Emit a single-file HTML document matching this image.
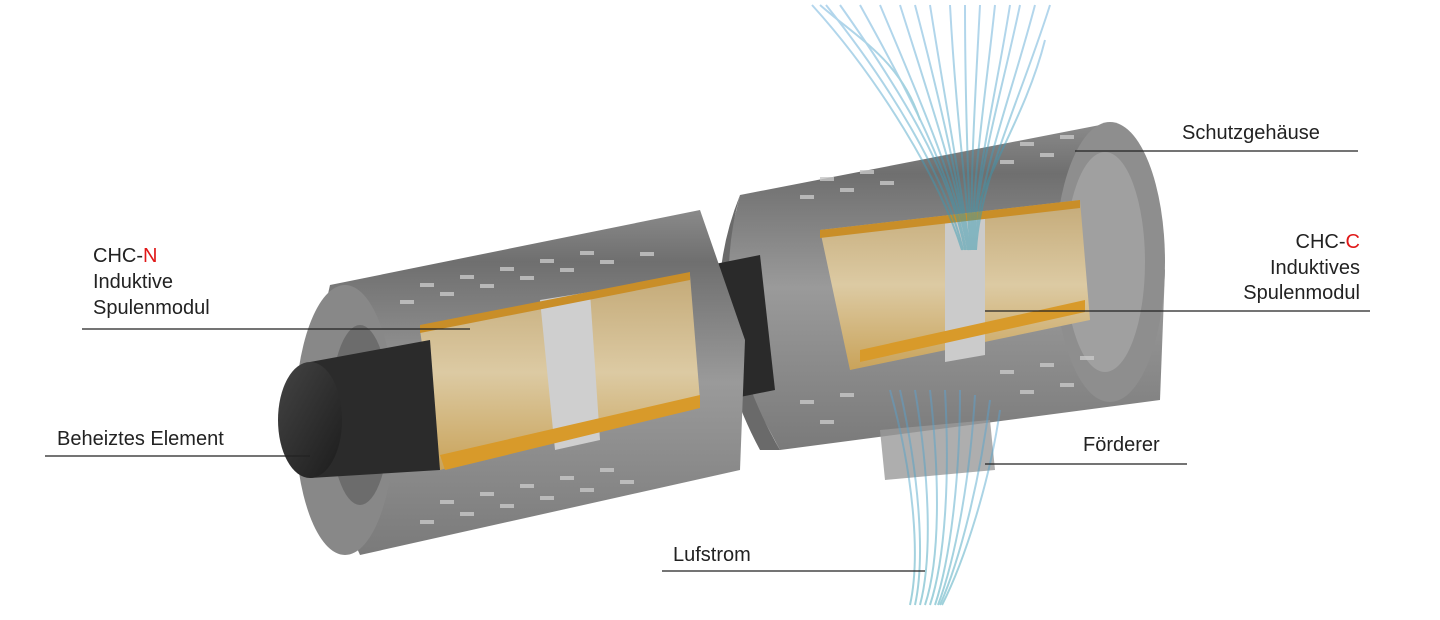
<!DOCTYPE html>
<html><head><meta charset="utf-8"><style>
html,body{margin:0;padding:0;background:#fff;width:1440px;height:620px;overflow:hidden}
svg{display:block}
text{font-family:"Liberation Sans",sans-serif;font-size:20px;fill:#222}
</style></head><body>
<svg width="1440" height="620" viewBox="0 0 1440 620" xmlns="http://www.w3.org/2000/svg">
<defs>
<linearGradient id="hous" x1="0" y1="0" x2="0" y2="1">
<stop offset="0" stop-color="#8a8a8a"/><stop offset="0.15" stop-color="#6f6f6f"/><stop offset="0.5" stop-color="#9a9a9a"/><stop offset="1" stop-color="#7a7a7a"/></linearGradient>
<linearGradient id="coil" x1="0" y1="0" x2="0" y2="1">
<stop offset="0" stop-color="#c4aa78"/><stop offset="0.5" stop-color="#dccaa3"/><stop offset="1" stop-color="#c9a35a"/></linearGradient>
<linearGradient id="blk" x1="0" y1="0" x2="1" y2="1">
<stop offset="0" stop-color="#444"/><stop offset="1" stop-color="#1c1c1c"/></linearGradient>
<linearGradient id="air" x1="0" y1="0" x2="0" y2="1">
<stop offset="0" stop-color="#5aa6d8"/><stop offset="1" stop-color="#2c9ab0"/></linearGradient>
</defs>

<!-- right cylinder -->
<polygon points="740,195 1100,125 1165,270 1160,400 780,450 710,320" fill="url(#hous)"/>
<path d="M740,195 Q705,320 780,450 L760,450 Q690,320 740,195Z" fill="#6a6a6a"/>
<ellipse cx="1110" cy="262" rx="55" ry="140" fill="#8e8e8e"/>
<ellipse cx="1105" cy="262" rx="40" ry="110" fill="#a0a0a0"/>
<polygon points="820,230 1080,200 1090,320 850,370" fill="url(#coil)"/>
<polygon points="945,222 985,218 985,355 945,362" fill="#cbcbcb"/>
<polygon points="860,350 1085,300 1085,312 860,362" fill="#d89a2a"/>
<polygon points="820,230 1080,200 1080,208 820,238" fill="#c98e28"/>
<!-- center connection -->
<polygon points="710,265 760,255 775,390 725,400" fill="#2a2a2a"/>
<!-- left cylinder -->
<polygon points="330,285 700,210 745,340 740,470 360,555 300,420" fill="url(#hous)"/>
<ellipse cx="345" cy="420" rx="50" ry="135" fill="#888"/>
<ellipse cx="360" cy="415" rx="30" ry="90" fill="#6c6c6c"/>
<polygon points="420,330 690,275 700,400 440,470" fill="url(#coil)"/>
<polygon points="540,300 590,292 600,440 555,450" fill="#cfcfcf"/>
<polygon points="440,455 700,395 700,408 445,470" fill="#d89a2a"/>
<polygon points="420,325 690,272 690,280 420,333" fill="#c98e28"/>
<!-- heated element -->
<polygon points="310,362 430,340 440,470 310,478" fill="#2b2b2b"/>
<ellipse cx="310" cy="420" rx="32" ry="58" fill="url(#blk)"/>
<!-- slots -->
<g fill="#c8c8c8" opacity=".8">
<rect x="400" y="300" width="14" height="4"/><rect x="440" y="292" width="14" height="4"/><rect x="480" y="284" width="14" height="4"/><rect x="520" y="276" width="14" height="4"/><rect x="560" y="268" width="14" height="4"/><rect x="600" y="260" width="14" height="4"/><rect x="640" y="252" width="14" height="4"/>
<rect x="420" y="283" width="14" height="4"/><rect x="460" y="275" width="14" height="4"/><rect x="500" y="267" width="14" height="4"/><rect x="540" y="259" width="14" height="4"/><rect x="580" y="251" width="14" height="4"/>
<rect x="420" y="520" width="14" height="4"/><rect x="460" y="512" width="14" height="4"/><rect x="500" y="504" width="14" height="4"/><rect x="540" y="496" width="14" height="4"/><rect x="580" y="488" width="14" height="4"/><rect x="620" y="480" width="14" height="4"/>
<rect x="440" y="500" width="14" height="4"/><rect x="480" y="492" width="14" height="4"/><rect x="520" y="484" width="14" height="4"/><rect x="560" y="476" width="14" height="4"/><rect x="600" y="468" width="14" height="4"/>
<rect x="800" y="195" width="14" height="4"/><rect x="840" y="188" width="14" height="4"/><rect x="880" y="181" width="14" height="4"/><rect x="1000" y="160" width="14" height="4"/><rect x="1040" y="153" width="14" height="4"/>
<rect x="820" y="177" width="14" height="4"/><rect x="860" y="170" width="14" height="4"/><rect x="1020" y="142" width="14" height="4"/><rect x="1060" y="135" width="14" height="4"/>
<rect x="800" y="400" width="14" height="4"/><rect x="840" y="393" width="14" height="4"/><rect x="1000" y="370" width="14" height="4"/><rect x="1040" y="363" width="14" height="4"/><rect x="1080" y="356" width="14" height="4"/>
<rect x="820" y="420" width="14" height="4"/><rect x="1020" y="390" width="14" height="4"/><rect x="1060" y="383" width="14" height="4"/>
</g>
<!-- conveyor -->
<polygon points="880,430 990,420 995,470 885,480" fill="#9a9a9a" opacity=".8"/>
<!-- airflow -->
<g fill="none" stroke="url(#air)" stroke-width="2" opacity=".45">
<path d="M812,5 C880,80 940,180 962,250"/><path d="M826,5 C890,85 945,175 963,250"/><path d="M840,5 C900,90 950,170 965,250"/><path d="M860,5 C910,95 952,175 966,250"/><path d="M880,5 C920,100 955,180 968,250"/>
<path d="M900,5 C930,100 957,180 969,250"/><path d="M915,5 C940,100 958,180 969,250"/><path d="M930,5 C945,100 960,180 970,250"/><path d="M950,5 C955,100 965,180 971,250"/><path d="M965,5 C965,100 968,180 971,250"/>
<path d="M980,5 C975,100 970,180 972,250"/><path d="M995,5 C985,100 972,180 973,250"/><path d="M1010,5 C995,100 974,180 974,250"/><path d="M1020,5 C1000,100 975,180 974,250"/><path d="M1035,5 C1010,100 978,180 975,250"/><path d="M1050,5 C1020,100 980,180 976,250"/>
<path d="M820,5 C860,40 900,60 920,120"/><path d="M1045,40 C1030,100 1000,150 980,200"/>
<path d="M890,390 C915,480 920,560 910,605"/><path d="M900,390 C920,480 925,560 915,605"/><path d="M915,390 C930,480 932,560 920,605"/><path d="M930,390 C940,480 940,560 925,605"/><path d="M945,390 C950,480 945,560 930,605"/>
<path d="M960,390 C960,480 950,560 935,605"/><path d="M975,395 C970,480 955,560 938,605"/><path d="M990,400 C980,480 960,560 940,605"/><path d="M1000,410 C990,480 965,560 942,605"/>
</g>
<!-- labels -->
<text x="1182" y="139">Schutzgehäuse</text>
<line x1="1075" y1="151" x2="1358" y2="151" stroke="#222" stroke-width="1.2"/>
<text x="1360" y="248" text-anchor="end">CHC-<tspan fill="#e01818">C</tspan></text>
<text x="1360" y="274" text-anchor="end">Induktives</text>
<text x="1360" y="299" text-anchor="end">Spulenmodul</text>
<line x1="985" y1="311" x2="1370" y2="311" stroke="#222" stroke-width="1.2"/>
<text x="1083" y="451">Förderer</text>
<line x1="985" y1="464" x2="1187" y2="464" stroke="#222" stroke-width="1.2"/>
<text x="673" y="561">Lufstrom</text>
<line x1="662" y1="571" x2="925" y2="571" stroke="#222" stroke-width="1.2"/>
<text x="93" y="262">CHC-<tspan fill="#e01818">N</tspan></text>
<text x="93" y="288">Induktive</text>
<text x="93" y="314">Spulenmodul</text>
<line x1="82" y1="329" x2="470" y2="329" stroke="#222" stroke-width="1.2"/>
<text x="57" y="445">Beheiztes Element</text>
<line x1="45" y1="456" x2="310" y2="456" stroke="#222" stroke-width="1.2"/>
</svg>
</body></html>
